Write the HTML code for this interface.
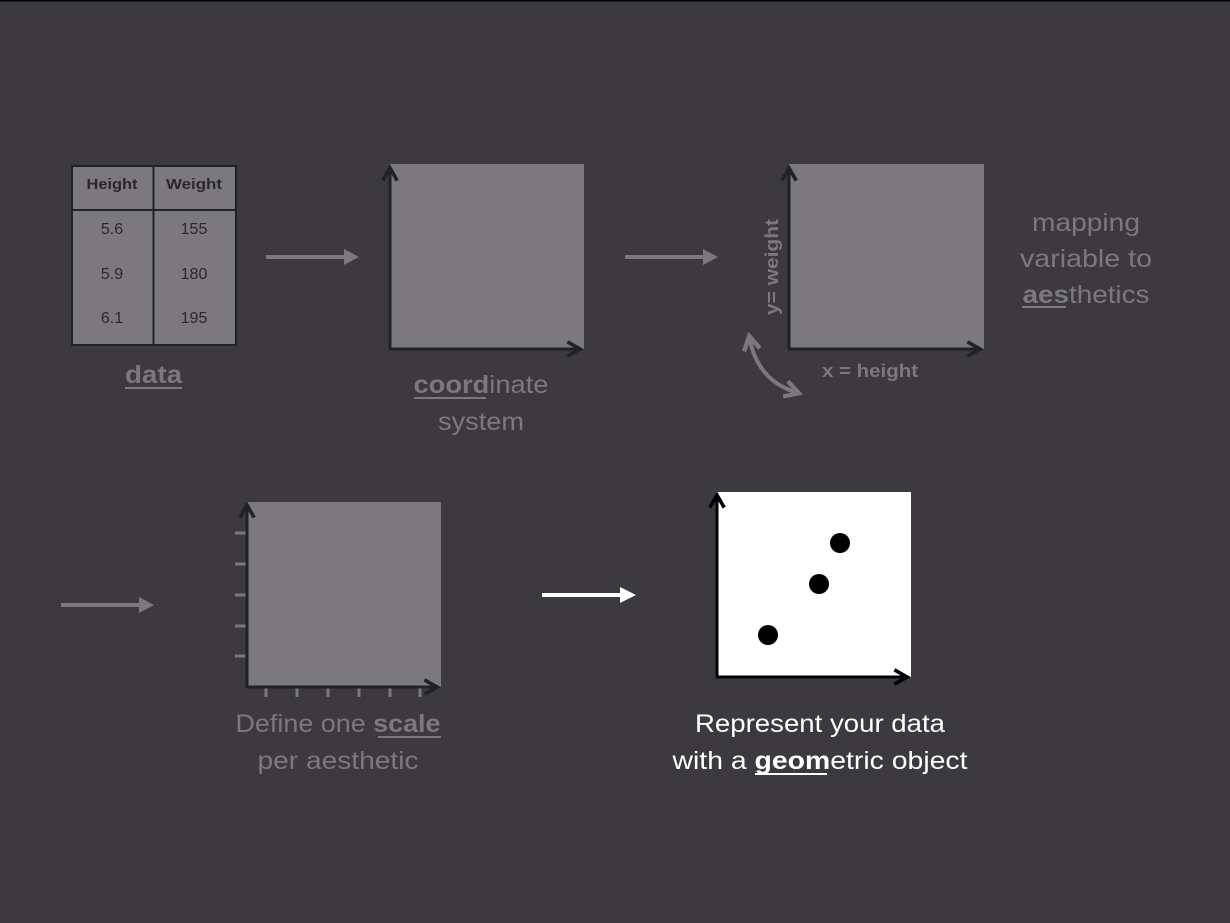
<!DOCTYPE html>
<html><head><meta charset="utf-8"><style>
html,body{margin:0;padding:0;background:#3c393f;}
svg{display:block;}
text{font-family:"Liberation Sans",sans-serif;}
</style></head><body>
<svg width="1230" height="923" viewBox="0 0 1230 923" xmlns="http://www.w3.org/2000/svg">
<defs>
<marker id="ah" viewBox="0 0 10 10" refX="8" refY="5" markerWidth="6" markerHeight="6" orient="auto-start-reverse"><path d="M1,1 L8,5 L1,9" fill="none" stroke="#222126" stroke-width="2"/></marker>
<marker id="ahk" viewBox="0 0 10 10" refX="8" refY="5" markerWidth="6" markerHeight="6" orient="auto-start-reverse"><path d="M1,1 L8,5 L1,9" fill="none" stroke="#000" stroke-width="2"/></marker>
<marker id="ahg" viewBox="0 0 10 10" refX="6" refY="5" markerWidth="5" markerHeight="5" orient="auto-start-reverse"><path d="M1,1 L8,5 L1,9" fill="none" stroke="#7b797e" stroke-width="2.2"/></marker>
</defs>
<rect x="0" y="0" width="1230" height="923" fill="#3c393f"/>
<rect x="0" y="0" width="1230" height="1.5" fill="#000"/>

<!-- table -->
<rect x="72" y="166" width="164" height="179" fill="#7b797e" stroke="#222126" stroke-width="2"/>
<line x1="72" y1="210" x2="236" y2="210" stroke="#222126" stroke-width="2"/>
<line x1="153.5" y1="166" x2="153.5" y2="345" stroke="#222126" stroke-width="2"/>
<text x="112" y="189" font-size="15" font-weight="bold" fill="#2a282d" text-anchor="middle" textLength="51" lengthAdjust="spacingAndGlyphs">Height</text>
<text x="194" y="189" font-size="15" font-weight="bold" fill="#2a282d" text-anchor="middle" textLength="56" lengthAdjust="spacingAndGlyphs">Weight</text>
<g font-size="16" fill="#2a282d" text-anchor="middle">
<text x="112" y="234">5.6</text><text x="194" y="234">155</text>
<text x="112" y="279">5.9</text><text x="194" y="279">180</text>
<text x="112" y="323">6.1</text><text x="194" y="323">195</text>
</g>
<text x="153.5" y="383" font-size="25" font-weight="bold" fill="#7b797e" text-anchor="middle" textLength="57" lengthAdjust="spacingAndGlyphs">data</text>
<line x1="125" y1="388" x2="182" y2="388" stroke="#7b797e" stroke-width="2"/>

<!-- arrows -->
<g stroke="#7b797e" stroke-width="4" fill="#7b797e">
<line x1="266" y1="257" x2="346" y2="257"/><path d="M344,249 L359,257 L344,265Z" stroke="none"/>
<line x1="625" y1="257" x2="705" y2="257"/><path d="M703,249 L718,257 L703,265Z" stroke="none"/>
<line x1="61" y1="605" x2="141" y2="605"/><path d="M139,597 L154,605 L139,613Z" stroke="none"/>
</g>
<g stroke="#fff" stroke-width="4" fill="#fff">
<line x1="542" y1="595" x2="622" y2="595"/><path d="M620,587 L636,595 L620,603Z" stroke="none"/>
</g>

<!-- coord -->
<rect x="390" y="164" width="194" height="185" fill="#7b797e"/>
<g stroke="#222126" stroke-width="3" fill="none">
<line x1="390" y1="349" x2="390" y2="168" marker-end="url(#ah)"/>
<line x1="389" y1="349" x2="580" y2="349" marker-end="url(#ah)"/>
</g>
<text x="481" y="393" font-size="25" fill="#7b797e" text-anchor="middle" textLength="135" lengthAdjust="spacingAndGlyphs"><tspan font-weight="bold">coord</tspan>inate</text>
<line x1="414" y1="398" x2="486" y2="398" stroke="#7b797e" stroke-width="2"/>
<text x="481" y="430" font-size="25" fill="#7b797e" text-anchor="middle" textLength="86" lengthAdjust="spacingAndGlyphs">system</text>

<!-- aesthetics -->
<rect x="789" y="164" width="195" height="185" fill="#7b797e"/>
<g stroke="#222126" stroke-width="3" fill="none">
<line x1="789" y1="349" x2="789" y2="168" marker-end="url(#ah)"/>
<line x1="788" y1="349" x2="980" y2="349" marker-end="url(#ah)"/>
</g>
<text transform="translate(778,267) rotate(-90)" font-size="18" font-weight="bold" fill="#7b797e" text-anchor="middle" textLength="96" lengthAdjust="spacingAndGlyphs">y= weight</text>
<text x="870" y="377" font-size="18" font-weight="bold" fill="#7b797e" text-anchor="middle" textLength="96" lengthAdjust="spacingAndGlyphs">x = height</text>
<path d="M750,340 Q758,380 795,392" stroke="#7b797e" stroke-width="4" fill="none" marker-start="url(#ahg)" marker-end="url(#ahg)"/>
<g font-size="25" fill="#7b797e" text-anchor="middle">
<text x="1086" y="231" textLength="108" lengthAdjust="spacingAndGlyphs">mapping</text>
<text x="1086" y="267" textLength="132" lengthAdjust="spacingAndGlyphs">variable to</text>
<text x="1086" y="303" textLength="127" lengthAdjust="spacingAndGlyphs"><tspan font-weight="bold">aes</tspan>thetics</text>
</g>
<line x1="1022" y1="307" x2="1066" y2="307" stroke="#7b797e" stroke-width="2"/>

<!-- scale -->
<rect x="246" y="502" width="195" height="185" fill="#7b797e"/>
<g stroke="#7b797e" stroke-width="3">
<line x1="235" y1="533" x2="246" y2="533"/><line x1="235" y1="564" x2="246" y2="564"/>
<line x1="235" y1="595" x2="246" y2="595"/><line x1="235" y1="626" x2="246" y2="626"/>
<line x1="235" y1="656" x2="246" y2="656"/>
<line x1="266" y1="687" x2="266" y2="697"/><line x1="297" y1="687" x2="297" y2="697"/>
<line x1="328" y1="687" x2="328" y2="697"/><line x1="359" y1="687" x2="359" y2="697"/>
<line x1="390" y1="687" x2="390" y2="697"/><line x1="420" y1="687" x2="420" y2="697"/>
</g>
<g stroke="#222126" stroke-width="3" fill="none">
<line x1="247" y1="687" x2="247" y2="505" marker-end="url(#ah)"/>
<line x1="246" y1="687" x2="437" y2="687" marker-end="url(#ah)"/>
</g>
<g font-size="25" fill="#7b797e" text-anchor="middle">
<text x="338" y="732" textLength="205" lengthAdjust="spacingAndGlyphs">Define one <tspan font-weight="bold">scale</tspan></text>
<text x="338" y="769" textLength="161" lengthAdjust="spacingAndGlyphs">per aesthetic</text>
</g>
<line x1="378" y1="737" x2="441" y2="737" stroke="#7b797e" stroke-width="2"/>

<!-- geom -->
<rect x="716" y="492" width="195" height="185" fill="#fff"/>
<g stroke="#000" stroke-width="3" fill="none">
<line x1="717" y1="677" x2="717" y2="495" marker-end="url(#ahk)"/>
<line x1="716" y1="677" x2="907" y2="677" marker-end="url(#ahk)"/>
</g>
<circle cx="840" cy="543" r="10" fill="#000"/>
<circle cx="819" cy="584" r="10" fill="#000"/>
<circle cx="768" cy="635" r="10" fill="#000"/>
<g font-size="25" fill="#fff" text-anchor="middle">
<text x="820" y="732" textLength="250" lengthAdjust="spacingAndGlyphs">Represent your data</text>
<text x="820" y="769" textLength="295" lengthAdjust="spacingAndGlyphs">with a <tspan font-weight="bold">geom</tspan>etric object</text>
</g>
<line x1="755" y1="774" x2="827" y2="774" stroke="#fff" stroke-width="2"/>
</svg>
</body></html>
